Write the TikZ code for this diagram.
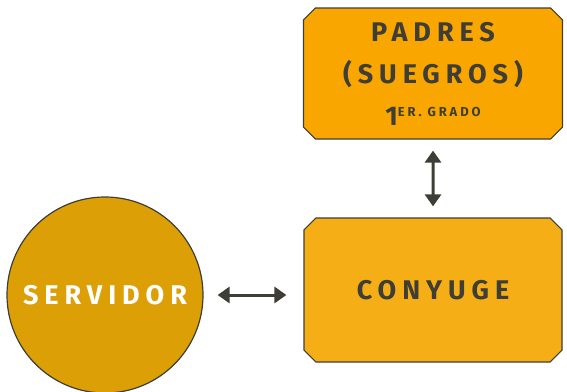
\documentclass[tikz,border=0pt]{standalone}
\usepackage{fontspec}
\usetikzlibrary{shapes.misc, arrows.meta}
\newfontfamily\dinfont[LetterSpace=22]{Fira Sans}
\definecolor{naranjaA}{HTML}{F9A700}
\definecolor{naranjaB}{HTML}{F6AE17}
\definecolor{dorado}{HTML}{DD9F06}
\definecolor{grisT}{HTML}{3E3E36}

\begin{document}
\begin{tikzpicture}[x=1pt, y=-1pt,
    caja/.style={chamfered rectangle, chamfered rectangle xsep=9pt,
      draw=grisT, line width=1.2pt, text=grisT, align=center,
      font=\dinfont\bfseries\fontsize{27}{42}\selectfont},
    flecha/.style={{Triangle[width=16pt,length=12pt]}-{Triangle[width=16pt,length=12pt]},
      draw=grisT, line width=3pt}]
    \useasboundingbox (0,0) rectangle (567,391);
    % nodos
    \node[caja, fill=naranjaA, minimum width=259pt, minimum height=131pt] (padres) at (433,73.5)
      {PADRES\\(SUEGROS)\\1\raisebox{9pt}{\fontsize{13}{13}\selectfont ER. GRADO}};
    \node[caja, fill=naranjaB, minimum width=258pt, minimum height=144pt] (conyuge) at (433,290) {CONYUGE};
    \node[circle, fill=dorado, draw=grisT, line width=1.2pt, minimum size=196pt, text=white,
      font=\dinfont\bfseries\fontsize{27}{27}\selectfont] (servidor) at (105,295) {SERVIDOR};
    % flechas
    \draw[flecha, shorten <=11pt, shorten >=11pt] (padres) -- (conyuge);
    \draw[flecha, shorten <=14pt, shorten >=17pt] (servidor.east) -- (servidor.east -| conyuge.west);
\end{tikzpicture}
\end{document}
